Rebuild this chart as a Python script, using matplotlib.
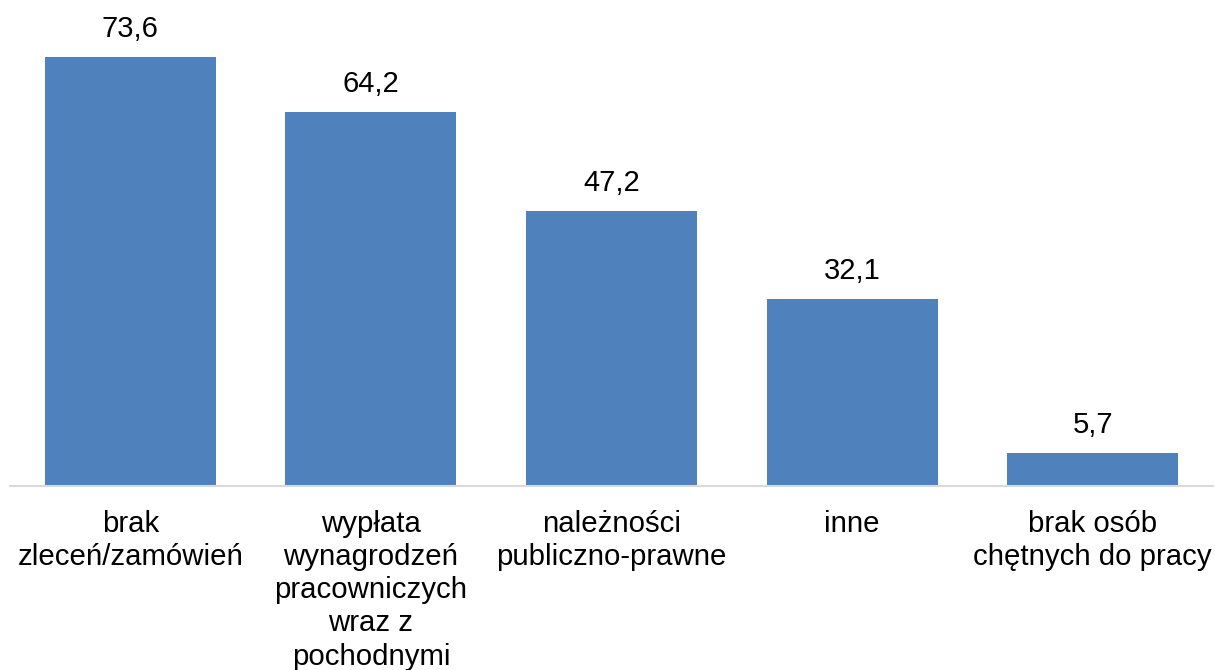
import matplotlib.pyplot as plt

plt.rcParams["font.family"] = ["Liberation Sans", "DejaVu Sans"]

categories = [
    "brak\nzleceń/zamówień",
    "wypłata\nwynagrodzeń\npracowniczych\nwraz z\npochodnymi",
    "należności\npubliczno-prawne",
    "inne",
    "brak osób\nchętnych do pracy",
]
values = [73.6, 64.2, 47.2, 32.1, 5.7]

fig = plt.figure(figsize=(12.15, 6.7), dpi=100)
ax = fig.add_axes([10 / 1215, 184 / 670, 1203 / 1215, 486 / 670])

x = range(len(categories))
bars = ax.bar(x, values, width=0.71, color="#4f81bd")

for xi, v in zip(x, values):
    ax.annotate(
        f"{v:.1f}".replace(".", ","),
        (xi, v),
        xytext=(0, 10),
        textcoords="offset points",
        ha="center",
        va="bottom",
        fontsize=21,
        annotation_clip=False,
    )

ax.set_xlim(-0.5, 4.5)
ax.set_ylim(0, 83.4)
ax.set_xticks(list(x))
ax.set_xticklabels(categories, fontsize=21.2, linespacing=1.24)
ax.tick_params(axis="x", length=0, pad=17)
ax.set_yticks([])

for side in ["top", "left", "right"]:
    ax.spines[side].set_visible(False)
ax.spines["bottom"].set_color("#d9d9d9")
ax.spines["bottom"].set_linewidth(1.5)

fig.savefig("out.png", dpi=100)
